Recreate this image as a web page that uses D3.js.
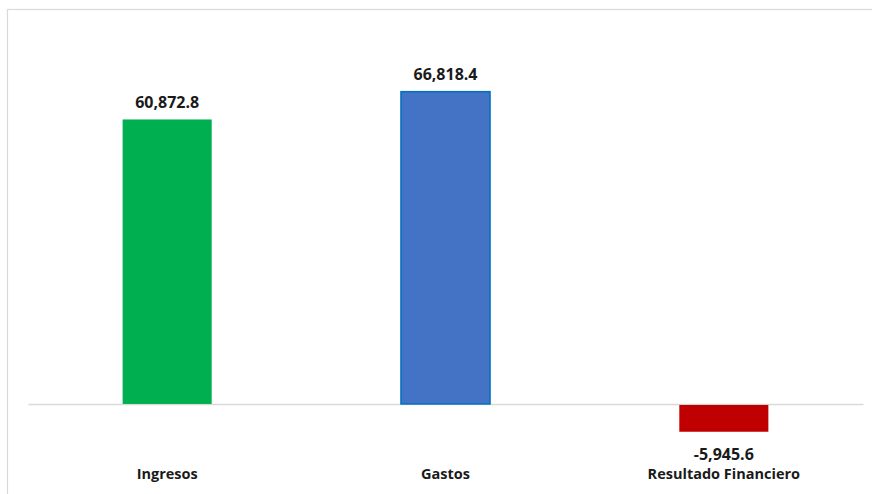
<!DOCTYPE html>
<html>
<head>
<meta charset="utf-8">
<script src="https://cdn.jsdelivr.net/npm/d3@7"></script>
<style>
  html,body{margin:0;padding:0;background:#fff;}
  svg{display:block;font-family:"Open Sans",sans-serif;}
</style>
</head>
<body>
<svg id="chart" width="872" height="494"></svg>
<script>
// datos (millones)
const categorias=['Ingresos','Gastos','Resultado Financiero']
const valores=[60872.8,66818.4,-5945.6]
const colores=['#00B050','#4472C4','#C00000']
const bordes=['#00B050','#0070C0','#C00000']

const svg=d3.select('#chart')
const W=872,H=494

// marco del grafico
svg.append('rect')
  .attr('x',7.5).attr('y',9.5)
  .attr('width',W).attr('height',H)
  .attr('fill','none')
  .attr('stroke','#d9d9d9')
  .attr('stroke-width',1.2)

const x=d3.scaleBand().domain(categorias).range([28,863]).padding(0)
const y=d3.scaleLinear().domain([-10000,70000]).range([450.7,76.8])
const bw=x.bandwidth()*0.32

// linea base (eje en cero)
svg.append('g')
  .attr('transform',`translate(0,${y(0)})`)
  .call(d3.axisBottom(x).tickSize(0).tickSizeOuter(0).tickFormat(''))
  .call(g=>g.select('.domain').attr('stroke','#d9d9d9').attr('stroke-width',1.6))

const datos=categorias.map((c,i)=>({cat:c,val:valores[i],fill:colores[i],stroke:bordes[i]}))

svg.selectAll('rect.barra')
  .data(datos)
  .enter()
  .append('rect')
  .attr('class','barra')
  .attr('x',d=>x(d.cat)+x.bandwidth()/2-bw/2)
  .attr('width',bw)
  .attr('y',d=>d.val>=0?y(d.val):y(0)+1)
  .attr('height',d=>Math.abs(y(d.val)-y(0))-(d.val>=0?0:1))
  .attr('fill',d=>d.fill)
  .attr('stroke',(d,i)=>i===1?d.stroke:'none')
  .attr('stroke-width',1.5)

const fmt=d3.format(',.1f')
svg.selectAll('text.valor')
  .data(datos)
  .enter()
  .append('text')
  .attr('class','valor')
  .attr('x',d=>x(d.cat)+x.bandwidth()/2)
  .attr('y',d=>d.val>=0?y(d.val)-11.5:y(d.val)+28)
  .attr('text-anchor','middle')
  .attr('font-size',16)
  .attr('font-weight','bold')
  .attr('fill','#1a1a1a')
  .text(d=>fmt(d.val).replace('−','-'))

svg.selectAll('text.cat')
  .data(datos)
  .enter()
  .append('text')
  .attr('class','cat')
  .attr('x',d=>x(d.cat)+x.bandwidth()/2)
  .attr('y',479)
  .attr('text-anchor','middle')
  .attr('font-size',14.5)
  .attr('font-weight','bold')
  .attr('fill','#1a1a1a')
  .text(d=>d.cat)
</script>
</body>
</html>
